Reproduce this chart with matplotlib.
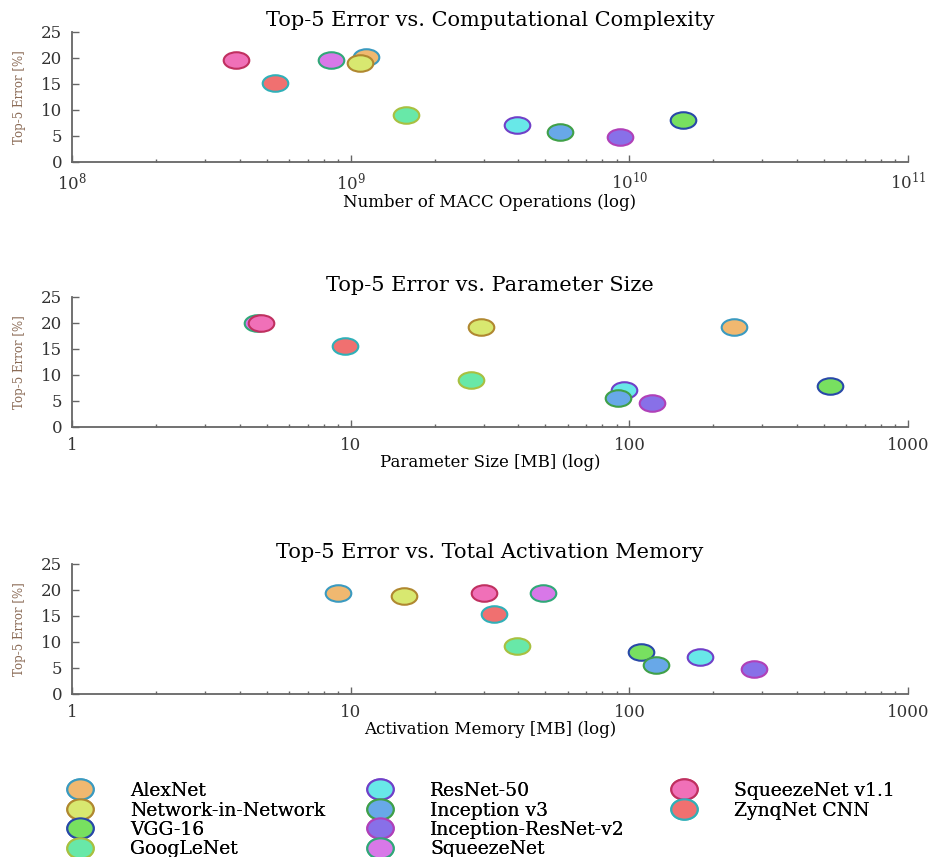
import matplotlib
matplotlib.use("Agg")
import matplotlib.pyplot as plt
from matplotlib.path import Path
from matplotlib.transforms import Affine2D
from matplotlib.lines import Line2D
from matplotlib.ticker import FuncFormatter, NullFormatter, LogLocator

NETWORKS = [
    "AlexNet", "Network-in-Network", "VGG-16", "GoogLeNet", "ResNet-50",
    "Inception v3", "Inception-ResNet-v2", "SqueezeNet", "SqueezeNet v1.1",
    "ZynqNet CNN",
]
FACE_COLORS = [
    "#F0B870", "#D8E870", "#78E060", "#68E8A8", "#68E8E8",
    "#68A8E8", "#8870E8", "#D878E8", "#F070B8", "#F07070",
]
EDGE_COLORS = [
    "#3A9AC0", "#B08830", "#2848A8", "#A8C040", "#7040C8",
    "#40A048", "#B040B8", "#30A878", "#C03060", "#30B0B8",
]

# values
MACC_OPS = [1.13e9, 1.08e9, 1.56e10, 1.58e9, 3.94e9, 5.64e9, 9.26e9, 8.49e8, 3.87e8, 5.37e8]
MACC_ERR = [20.1, 19.0, 8.0, 9.1, 7.1, 5.7, 4.8, 19.6, 19.6, 15.2]

PARAM_MB = [237, 29.3, 523, 27.1, 96, 91, 121, 4.6, 4.75, 9.55]
PARAM_ERR = [19.3, 19.3, 7.9, 9.0, 7.1, 5.6, 4.7, 19.9, 19.9, 15.5]

ACT_MB = [9.0, 15.5, 110, 39.4, 179, 125, 280, 48.9, 30.0, 32.8]
ACT_ERR = [19.5, 18.9, 8.1, 9.2, 7.2, 5.5, 4.8, 19.5, 19.5, 15.4]

PANELS = [
    ("Top-5 Error vs. Computational Complexity", "Number of MACC Operations (log)",
     MACC_OPS, MACC_ERR, (1e8, 1e11), True),
    ("Top-5 Error vs. Parameter Size", "Parameter Size [MB] (log)",
     PARAM_MB, PARAM_ERR, (1, 1000), False),
    ("Top-5 Error vs. Total Activation Memory", "Activation Memory [MB] (log)",
     ACT_MB, ACT_ERR, (1, 1000), False),
]

SPINE_COLOR = "#666666"
TICK_COLOR = "#333333"
YLABEL_COLOR = "#8A6A55"

ELLIPSE = Path.unit_circle().transformed(Affine2D().scale(1.55, 1.0))
ELLIPSE_LEG = Path.unit_circle().transformed(Affine2D().scale(1.3, 1.0))

plt.rcParams["font.family"] = ["DejaVu Serif"]
plt.rcParams["mathtext.fontset"] = "dejavuserif"

fig = plt.figure(figsize=(9.32, 8.57), dpi=100)
fig.patch.set_facecolor("white")

BOTTOMS = [0.811, 0.5018, 0.1902]
for (title, xlabel, xs, ys, xlim, sci), bottom in zip(PANELS, BOTTOMS):
    ax = fig.add_axes([0.0773, bottom, 0.897, 0.1517])
    for i in range(len(NETWORKS)):
        ax.scatter([xs[i]], [ys[i]], s=340, marker=ELLIPSE,
                   facecolor=FACE_COLORS[i], edgecolor=EDGE_COLORS[i],
                   linewidths=1.5, zorder=3 + i)
    ax.set_xscale("log")
    ax.set_xlim(*xlim)
    ax.set_ylim(0, 25)
    ax.set_yticks([0, 5, 10, 15, 20, 25])
    ax.xaxis.set_major_locator(LogLocator(base=10))
    ax.xaxis.set_minor_locator(LogLocator(base=10, subs=range(2, 10)))
    ax.xaxis.set_minor_formatter(NullFormatter())
    if not sci:
        ax.xaxis.set_major_formatter(FuncFormatter(lambda v, _: f"{v:g}"))

    for side in ("top", "right"):
        ax.spines[side].set_visible(False)
    for side in ("left", "bottom"):
        ax.spines[side].set_color(SPINE_COLOR)
        ax.spines[side].set_linewidth(1.3)

    ax.tick_params(which="both", direction="in", colors=SPINE_COLOR,
                   labelcolor=TICK_COLOR, labelsize=12, width=1.0)
    ax.tick_params(which="major", length=5)
    ax.tick_params(which="minor", length=2.5)
    ax.tick_params(axis="y", pad=7)
    ax.tick_params(axis="x", pad=7)

    ax.set_title(title, fontsize=15, pad=4)
    ax.set_xlabel(xlabel, fontsize=12, labelpad=0)
    ax.set_ylabel("Top-5 Error [%]", fontsize=8.5, color=YLABEL_COLOR)
    ax.yaxis.set_label_coords(-0.055, 0.5)

handles = [
    Line2D([], [], linestyle="none", marker=ELLIPSE_LEG, markersize=19,
           markerfacecolor=fc, markeredgecolor=ec, markeredgewidth=1.5, label=name)
    for name, fc, ec in zip(NETWORKS, FACE_COLORS, EDGE_COLORS)
]

# three fixed-position columns, like the original grid
columns = [(handles[0:4], 61), (handles[4:8], 361), (handles[8:10], 665)]
for col_handles, left_px in columns:
    leg = fig.legend(handles=col_handles, loc="upper left",
                     bbox_to_anchor=(left_px / 932, 1 - 782 / 857),
                     frameon=False, fontsize=13.5, borderpad=0, borderaxespad=0,
                     handlelength=2.0, handletextpad=1.7, labelspacing=0.08)
    fig.add_artist(leg)

fig.savefig("out.png", dpi=100)
